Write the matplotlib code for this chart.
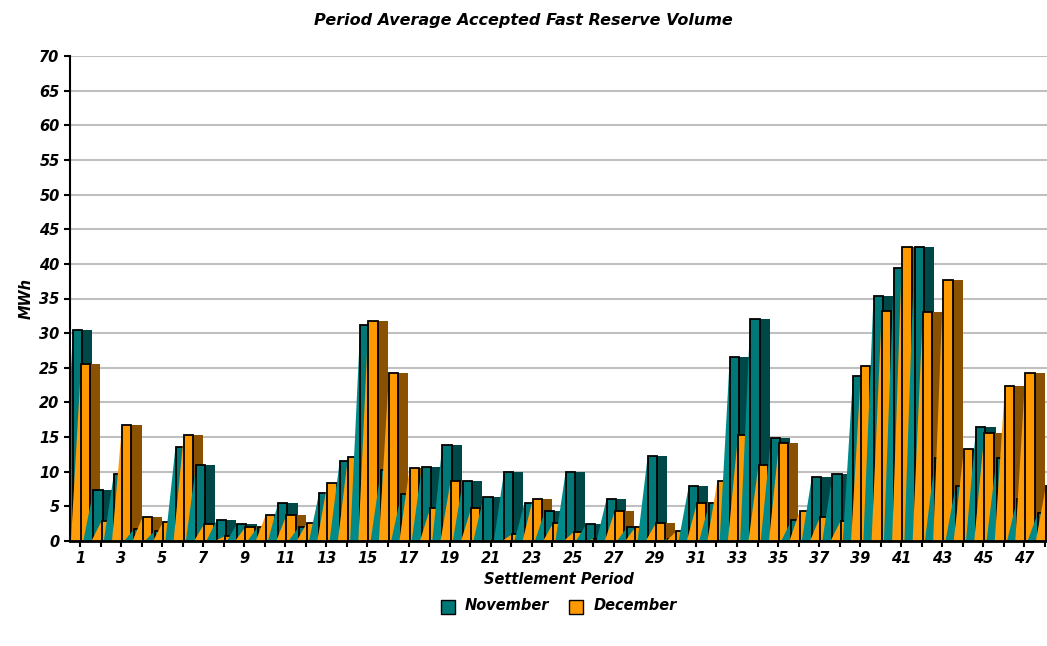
import numpy as np
import matplotlib.pyplot as plt
from matplotlib.patches import Polygon, Rectangle

periods = np.arange(1, 49)
november = [30.4, 7.3, 9.7, 1.8, 1.5, 13.6, 11.0, 3.0, 2.5, 2.0, 5.5, 2.0,
            7.0, 11.6, 31.2, 10.2, 6.8, 10.7, 13.9, 8.7, 6.3, 9.9, 5.5, 4.4,
            9.9, 2.4, 6.1, 2.0, 12.2, 0.3, 7.9, 5.5, 26.6, 32.1, 14.8, 3.0,
            9.3, 9.6, 23.8, 35.3, 39.4, 42.5, 12.0, 7.9, 16.5, 12.0, 6.1, 4.0]
december = [25.5, 2.9, 16.8, 3.5, 2.8, 15.3, 2.5, 0.7, 2.0, 3.8, 3.7, 2.6,
            8.4, 12.1, 31.8, 24.3, 10.5, 4.7, 8.7, 4.7, 0.2, 1.0, 6.0, 2.6,
            1.3, 0.3, 4.3, 2.0, 2.6, 1.4, 5.5, 8.7, 15.3, 11.0, 14.2, 4.3,
            3.5, 2.9, 25.2, 33.2, 42.5, 33.0, 37.6, 13.3, 15.6, 22.3, 24.3, 8.0]

fig = plt.figure(figsize=(10.47, 6.46), dpi=100)
ax = fig.add_axes([70/1047, 1-541/646, 977/1047, 485/646])

w = 0.45
series = [(november, -0.35, '#007878', '#004848', '#008a8a'),
          (december, 0.05, '#ff9900', '#8a5200', '#ff9d0a')]
z = 2
for p in range(len(periods)):
    for vals, off, face, dark, light in series:
        h = vals[p]
        x0 = periods[p] + off
        ax.add_patch(Rectangle((x0 + w, 0), w * 1.1, h, facecolor=dark,
                               edgecolor='none', zorder=z))
        ax.add_patch(Polygon([(x0 - w * 1.1, 0), (x0, h), (x0, 0)], closed=True,
                             facecolor=light, edgecolor='none', zorder=z + 0.1))
        ax.add_patch(Rectangle((x0, 0), w, h, facecolor=face,
                               edgecolor='black', lw=1.3, zorder=z + 0.2))
        z += 0.31

ax.set_xlim(0.51, 48.1)
ax.set_ylim(0, 70)
ax.set_yticks(range(0, 71, 5))
ax.set_xticks(periods, minor=True)
ax.set_xticks(periods[::2])
ax.tick_params(which='both', direction='out', length=4, width=1.5)
for lab in ax.get_xticklabels() + ax.get_yticklabels():
    lab.set_fontweight('bold')
    lab.set_fontstyle('italic')
    lab.set_fontsize(10.5)
ax.grid(axis='y', color='#c0c0c0', lw=1.5, zorder=0)
ax.set_axisbelow(True)
for s in ['top', 'right']:
    ax.spines[s].set_visible(False)
ax.spines['left'].set_linewidth(1.5)
ax.spines['bottom'].set_linewidth(2)
ax.spines['bottom'].set_zorder(100)
ax.set_xlabel('Settlement Period', fontsize=10.5, fontweight='bold', style='italic', labelpad=4)
ax.set_ylabel('MWh', fontsize=10.5, fontweight='bold', style='italic')
fig.text(0.5, 1-20/646, 'Period Average Accepted Fast Reserve Volume', ha='center', va='center',
         fontsize=11.5, fontweight='bold', style='italic')

h1 = ax.scatter([], [], marker='s', s=90, c='#007878', edgecolors='black')
h2 = ax.scatter([], [], marker='s', s=90, c='#ff9900', edgecolors='black')
fig.legend([h1, h2], ['November', 'December'], loc='center', bbox_to_anchor=(0.53, 1-606/646),
           ncol=2, frameon=False, handletextpad=0.2, columnspacing=0.8,
           prop={'weight': 'bold', 'style': 'italic', 'size': 10.5})
fig.savefig('out.png')
